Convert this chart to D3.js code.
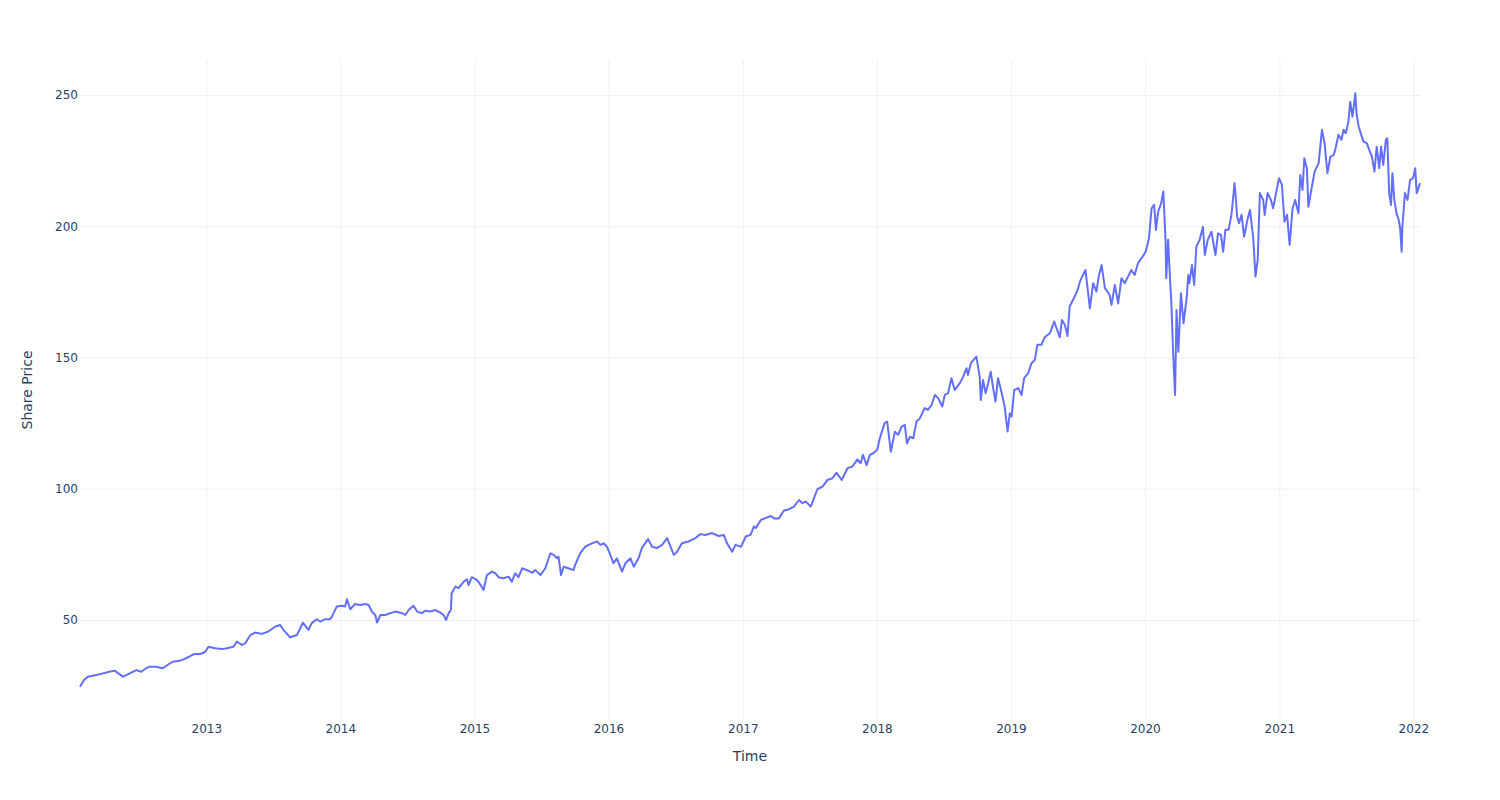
<!DOCTYPE html>
<html>
<head>
<meta charset="utf-8">
<script src="https://cdn.jsdelivr.net/npm/d3@7"></script>
<style>
  html, body { margin: 0; padding: 0; background: #fff; }
  svg { display: block; font-family: "DejaVu Sans", "Open Sans", sans-serif; }
</style>
</head>
<body>
<svg id="chart" width="1500" height="800"></svg>
<script>
const dateStrings = [
"2012-01-23","2012-02-03","2012-02-13","2012-03-07","2012-04-12","2012-04-26","2012-05-19","2012-05-28","2012-06-24","2012-07-08",
"2012-07-21","2012-07-30","2012-08-17","2012-09-04","2012-10-01","2012-10-19","2012-10-28","2012-11-15","2012-11-29","2012-12-16",
"2012-12-29","2013-01-07","2013-01-25","2013-02-12","2013-02-26","2013-03-16","2013-03-25","2013-04-08","2013-04-17","2013-05-01",
"2013-05-14","2013-06-01","2013-06-19","2013-07-08","2013-07-21","2013-07-30","2013-08-17","2013-09-05","2013-09-21","2013-10-06",
"2013-10-15","2013-10-29","2013-11-07","2013-11-21","2013-12-04","2013-12-09","2013-12-22","2014-01-05","2014-01-14","2014-01-19",
"2014-01-28","2014-02-10","2014-02-24","2014-03-10","2014-03-19","2014-03-28","2014-04-06","2014-04-11","2014-04-20","2014-05-03",
"2014-05-17","2014-05-30","2014-06-18","2014-06-27","2014-07-06","2014-07-19","2014-07-29","2014-08-11","2014-08-20","2014-09-03",
"2014-09-16","2014-09-30","2014-10-09","2014-10-16","2014-10-23","2014-10-29","2014-10-31","2014-11-10","2014-11-19","2014-12-03",
"2014-12-12","2014-12-16","2014-12-25","2015-01-05","2015-01-12","2015-01-26","2015-02-04","2015-02-18","2015-02-27","2015-03-08",
"2015-03-21","2015-04-04","2015-04-13","2015-04-22","2015-05-01","2015-05-11","2015-05-24","2015-06-07","2015-06-16","2015-06-30",
"2015-07-13","2015-07-27","2015-08-05","2015-08-14","2015-08-18","2015-08-25","2015-09-01","2015-09-14","2015-09-28","2015-10-02",
"2015-10-16","2015-10-30","2015-11-17","2015-12-01","2015-12-10","2015-12-19","2015-12-28","2016-01-06","2016-01-15","2016-01-24",
"2016-02-07","2016-02-16","2016-03-01","2016-03-10","2016-03-23","2016-04-01","2016-04-18","2016-04-29","2016-05-12","2016-05-26",
"2016-06-09","2016-06-18","2016-06-27","2016-07-06","2016-07-19","2016-08-06","2016-08-25","2016-09-07","2016-09-21","2016-10-09",
"2016-10-27","2016-11-10","2016-11-19","2016-12-03","2016-12-12","2016-12-27","2017-01-09","2017-01-22","2017-01-31","2017-02-05",
"2017-02-19","2017-03-18","2017-03-27","2017-04-09","2017-04-23","2017-05-07","2017-05-20","2017-06-03","2017-06-12","2017-06-21",
"2017-07-05","2017-07-23","2017-08-06","2017-08-19","2017-09-02","2017-09-13","2017-09-27","2017-10-13","2017-10-26","2017-11-09",
"2017-11-18","2017-11-24","2017-12-04","2017-12-13","2017-12-22","2018-01-02","2018-01-09","2018-01-22","2018-01-29","2018-02-08",
"2018-02-19","2018-02-28","2018-03-09","2018-03-18","2018-03-24","2018-04-01","2018-04-10","2018-04-19","2018-04-28","2018-05-11",
"2018-05-20","2018-05-30","2018-06-08","2018-06-17","2018-06-28","2018-07-05","2018-07-14","2018-07-23","2018-08-01","2018-08-15",
"2018-08-24","2018-09-02","2018-09-06","2018-09-14","2018-09-29","2018-10-08","2018-10-11","2018-10-17","2018-10-24","2018-10-31",
"2018-11-07","2018-11-13","2018-11-20","2018-11-27","2018-12-06","2018-12-15","2018-12-23","2018-12-29","2019-01-03","2019-01-10",
"2019-01-21","2019-01-30","2019-02-06","2019-02-17","2019-02-26","2019-03-07","2019-03-14","2019-03-25","2019-04-03","2019-04-17",
"2019-04-29","2019-05-05","2019-05-14","2019-05-20","2019-05-28","2019-06-04","2019-06-10","2019-06-19","2019-06-28","2019-07-03",
"2019-07-08","2019-07-12","2019-07-23","2019-08-04","2019-08-13","2019-08-22","2019-08-28","2019-09-05","2019-09-14","2019-09-27",
"2019-10-02","2019-10-11","2019-10-20","2019-10-29","2019-11-07","2019-11-16","2019-11-25","2019-12-04","2019-12-13","2019-12-23",
"2020-01-03","2020-01-12","2020-01-19","2020-01-26","2020-01-31","2020-02-06","2020-02-14","2020-02-20","2020-02-26","2020-02-28",
"2020-03-04","2020-03-09","2020-03-13","2020-03-18","2020-03-23","2020-03-27","2020-04-01","2020-04-08","2020-04-15","2020-04-24",
"2020-04-28","2020-05-01","2020-05-08","2020-05-14","2020-05-20","2020-05-29","2020-06-07","2020-06-12","2020-06-20","2020-06-30",
"2020-07-11","2020-07-18","2020-07-26","2020-08-01","2020-08-07","2020-08-16","2020-08-24","2020-09-01","2020-09-04","2020-09-08",
"2020-09-13","2020-09-20","2020-09-27","2020-10-06","2020-10-13","2020-10-22","2020-10-28","2020-11-03","2020-11-09","2020-11-18",
"2020-11-22","2020-11-30","2020-12-09","2020-12-15","2020-12-22","2020-12-31","2021-01-08","2021-01-15","2021-01-22","2021-01-29",
"2021-02-06","2021-02-13","2021-02-22","2021-02-27","2021-03-05","2021-03-10","2021-03-17","2021-03-21","2021-03-29","2021-04-07",
"2021-04-18","2021-04-27","2021-05-04","2021-05-12","2021-05-20","2021-05-29","2021-06-02","2021-06-11","2021-06-19","2021-06-25",
"2021-07-01","2021-07-08","2021-07-13","2021-07-19","2021-07-27","2021-07-30","2021-08-05","2021-08-12","2021-08-18","2021-08-27",
"2021-09-03","2021-09-10","2021-09-17","2021-09-23","2021-09-30","2021-10-05","2021-10-11","2021-10-18","2021-10-22","2021-10-27",
"2021-11-01","2021-11-05","2021-11-10","2021-11-16","2021-11-22","2021-11-26","2021-11-30","2021-12-02","2021-12-09","2021-12-16",
"2021-12-23","2021-12-31","2022-01-06","2022-01-10","2022-01-19"
];
const sharePrices = [
24.6,27.1,28.4,29.0,30.3,30.7,28.4,29.0,30.9,30.3,
31.6,32.2,32.2,31.6,34.1,34.5,34.8,36.0,37.0,37.0,
37.9,39.8,39.2,38.9,39.2,39.8,41.8,40.5,41.1,44.3,
45.2,44.7,45.6,47.5,48.1,46.2,43.4,44.3,49.0,46.2,
48.8,50.3,49.4,50.3,50.3,51.3,55.1,55.4,55.1,57.9,
54.1,56.1,55.7,56.1,55.7,53.2,51.9,49.0,51.9,51.9,
52.6,53.2,52.6,51.9,53.8,55.4,53.2,52.6,53.5,53.2,
53.8,52.8,51.9,50.0,52.6,53.8,60.2,62.7,62.1,64.6,
65.5,63.3,66.3,65.5,64.6,61.4,67.1,68.4,67.8,66.3,
65.9,66.5,64.6,67.8,66.3,69.7,69.0,68.0,69.0,67.1,
69.7,75.4,74.8,73.5,74.1,67.1,70.3,69.7,69.0,70.9,
75.4,77.9,79.2,79.9,78.6,79.2,77.9,74.8,71.6,73.5,
68.4,71.6,73.5,70.3,73.5,77.4,80.8,77.9,77.4,78.6,
81.2,77.9,74.8,76.0,79.2,79.9,81.2,82.7,82.4,83.1,
82.0,82.4,79.2,76.0,78.6,77.9,81.8,82.4,85.6,85.0,
88.1,89.6,88.7,88.7,91.7,92.2,93.2,95.7,94.5,95.1,
93.2,99.8,100.8,103.3,104.0,106.1,103.3,107.8,108.4,111.2,
109.7,112.9,109.0,112.9,113.5,114.8,119.2,125.0,125.6,114.1,
121.7,120.5,123.6,124.3,117.3,119.8,119.2,125.6,126.8,130.7,
130.0,131.9,135.7,134.5,131.3,135.7,136.4,142.1,137.6,140.2,
142.7,145.9,143.3,147.8,150.3,142.7,133.8,141.4,136.4,140.2,
144.6,138.9,133.2,142.1,137.0,131.3,121.8,128.7,127.5,137.6,
138.3,135.7,142.1,144.0,147.8,149.0,154.8,154.8,157.7,159.2,
163.7,161.2,157.7,164.3,162.4,158.2,169.4,171.9,174.5,176.4,
178.9,180.2,183.3,168.7,178.3,175.1,180.8,185.2,176.4,173.8,
170.0,177.6,170.6,180.2,178.3,180.8,183.3,181.4,185.9,187.8,
190.3,195.4,206.8,208.1,198.6,205.5,208.7,213.2,194.8,180.2,
194.8,180.8,170.6,150.9,135.7,168.1,152.2,174.5,163.0,173.2,
181.4,178.3,185.2,177.6,192.2,194.8,199.8,189.0,194.8,197.9,
189.0,197.3,196.7,190.3,198.6,198.6,204.9,216.4,211.3,203.7,
201.1,204.3,196.0,202.4,206.2,195.4,180.8,187.1,212.6,210.0,
204.3,212.6,210.0,206.8,211.9,218.3,215.7,201.7,204.3,192.9,
206.8,210.0,204.9,219.5,213.8,225.9,222.1,207.4,213.8,220.8,
224.0,236.7,231.6,220.2,226.5,227.1,229.0,234.8,232.9,236.7,
235.4,239.8,247.4,241.7,250.6,243.0,237.9,234.8,232.2,231.6,
229.0,226.5,220.8,230.3,222.1,230.3,223.3,232.9,233.5,212.6,
208.1,220.2,210.0,204.9,202.4,199.2,190.3,199.8,212.6,210.0,
217.6,218.3,222.1,212.6,216.4
];
const yearTicks = ["2013","2014","2015","2016","2017","2018","2019","2020","2021","2022"];
const priceTicks = [50, 100, 150, 200, 250];
const xTitle = "Time";
const yTitle = "Share Price";

const parse = d3.timeParse("%Y-%m-%d");
const data = dateStrings.map((s, i) => ({ date: parse(s), value: sharePrices[i] }));

const W = 1500, H = 800;
const m = { left: 80, right: 80, top: 60, bottom: 80 };
const svg = d3.select("#chart");
svg.append("rect").attr("width", W).attr("height", H).attr("fill", "#fff");

const x = d3.scaleTime().domain(d3.extent(data, d => d.date)).range([m.left, W - m.right]);
const y = d3.scaleLinear().domain([11.9, 263.3]).range([H - m.bottom, m.top]);

const tickDates = yearTicks.map(t => d3.timeParse("%Y")(t));
const fontColor = "#2a3f5f";
const gridColor = "#ebf0f8";

// Grid
svg.append("g")
  .attr("transform", `translate(0,${H - m.bottom})`)
  .call(d3.axisBottom(x).tickValues(tickDates).tickSize(-(H - m.top - m.bottom)).tickFormat(""))
  .call(g => g.select(".domain").remove())
  .call(g => g.selectAll("line").attr("stroke", gridColor).attr("stroke-width", 1));
svg.append("g")
  .attr("transform", `translate(${m.left},0)`)
  .call(d3.axisLeft(y).tickValues(priceTicks).tickSize(-(W - m.left - m.right)).tickFormat(""))
  .call(g => g.select(".domain").remove())
  .call(g => g.selectAll("line").attr("stroke", gridColor).attr("stroke-width", 1));

// Line
const line = d3.line().x(d => x(d.date)).y(d => y(d.value));
svg.append("path").datum(data)
  .attr("fill", "none").attr("stroke", "#636efa").attr("stroke-width", 2)
  .attr("stroke-linejoin", "round").attr("d", line);

// Axes labels
svg.append("g")
  .attr("transform", `translate(0,${H - m.bottom})`)
  .call(d3.axisBottom(x).tickValues(tickDates).tickSize(0).tickPadding(4).tickFormat(d3.timeFormat("%Y")))
  .call(g => g.select(".domain").remove())
  .call(g => g.selectAll("text").attr("fill", fontColor).style("font-size", "12px").style("font-family", "DejaVu Sans, sans-serif"));
svg.append("g")
  .attr("transform", `translate(${m.left - 2},0)`)
  .call(d3.axisLeft(y).tickValues(priceTicks).tickSize(0).tickPadding(0))
  .call(g => g.select(".domain").remove())
  .call(g => g.selectAll("text").attr("fill", fontColor).style("font-size", "12px").style("font-family", "DejaVu Sans, sans-serif"));

svg.append("text").attr("x", (m.left + W - m.right) / 2).attr("y", 761)
  .attr("text-anchor", "middle").attr("fill", fontColor).style("font-size", "14px").text(xTitle);
svg.append("text").attr("transform", `translate(32,${(m.top + H - m.bottom) / 2}) rotate(-90)`)
  .attr("text-anchor", "middle").attr("fill", fontColor).style("font-size", "14px").text(yTitle);
</script>
</body>
</html>
